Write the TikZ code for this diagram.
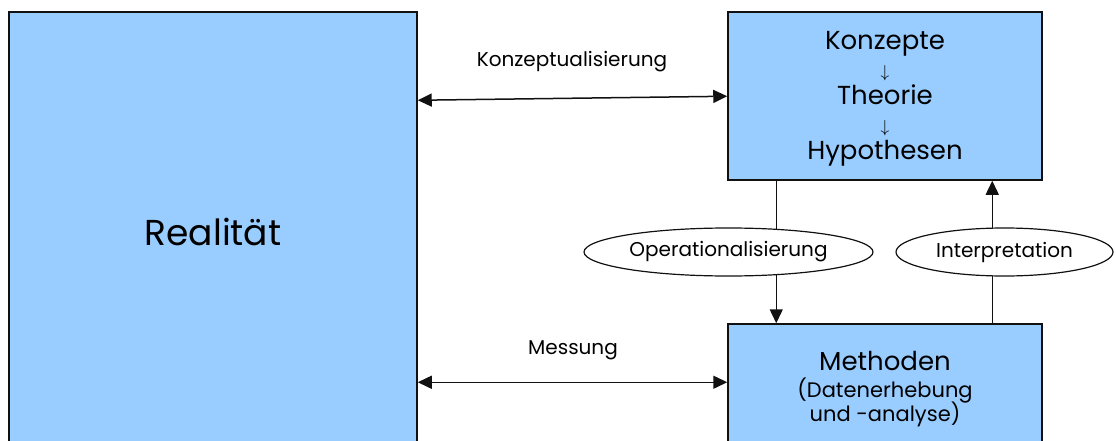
\documentclass[tikz,border=0pt]{standalone}
\usepackage{fontspec}
\setmainfont{Poppins}
\usetikzlibrary{arrows.meta, shapes.geometric, positioning}
\definecolor{boxblue}{HTML}{99CCFF}
\definecolor{linegray}{HTML}{111111}

\begin{document}
\begin{tikzpicture}[x=1pt, y=-1pt,
    blockbox/.style={draw=linegray, fill=boxblue, line width=1.5pt, inner sep=0pt, align=center},
    oval/.style={ellipse, draw=linegray, fill=white, line width=1.2pt, inner sep=0pt, minimum height=48pt, font=\fontsize{20}{22}\selectfont},
    lbl/.style={font=\fontsize{20}{22}\selectfont},
    conn/.style={line width=1.5pt, linegray, -{Triangle[length=14pt, width=13pt]}},
    both/.style={line width=1.5pt, linegray, {Triangle[length=14pt, width=13pt]}-{Triangle[length=14pt, width=13pt]}}]
  \clip (0,0) rectangle (1116,441);
  % Bloecke
  \node[blockbox, minimum width=408pt, minimum height=440pt, font=\fontsize{36}{40}\selectfont] (real) at (213,232) {Realität};
  \node[blockbox, minimum width=314pt, minimum height=168pt] (konz) at (885,96) {};
  \node[align=center, inner sep=0pt, font=\fontsize{26}{27.5}\selectfont] (konztxt) at ([yshift=-3pt]konz.center)
    {Konzepte\\{\fontsize{17}{17}\selectfont$\downarrow$}\\Theorie\\{\fontsize{17}{17}\selectfont$\downarrow$}\\Hypothesen};
  \node[blockbox, minimum width=314pt, minimum height=130pt, font=\fontsize{26}{27}\selectfont] (meth) at (885,389)
    {Methoden\\{\fontsize{21}{24}\selectfont (Datenerhebung}\\[-3pt]{\fontsize{21}{24}\selectfont und -analyse)}};
  % Pfeile links
  \draw[both] ([yshift=-89pt]real.north east) -- ([yshift=-85pt]konz.north west);
  \draw[both] ([yshift=-371pt]real.north east) -- ([yshift=-59pt]meth.north west);
  \node[lbl] (konzlbl) at (572,62) {Konzeptualisierung};
  \node[lbl] (messlbl) at (573,350) {Messung};
  % Pfeile rechts
  \draw[conn] ([xshift=49pt]konz.south west) -- ([xshift=49pt]meth.north west);
  \draw[conn] ([xshift=265pt]meth.north west) -- ([xshift=265pt]konz.south west);
  \node[oval, minimum width=289pt] (oper) at (728.5,252) {Operationalisierung};
  \node[oval, minimum width=217pt] (inter) at (1004.5,252) {Interpretation};
\end{tikzpicture}
\end{document}
